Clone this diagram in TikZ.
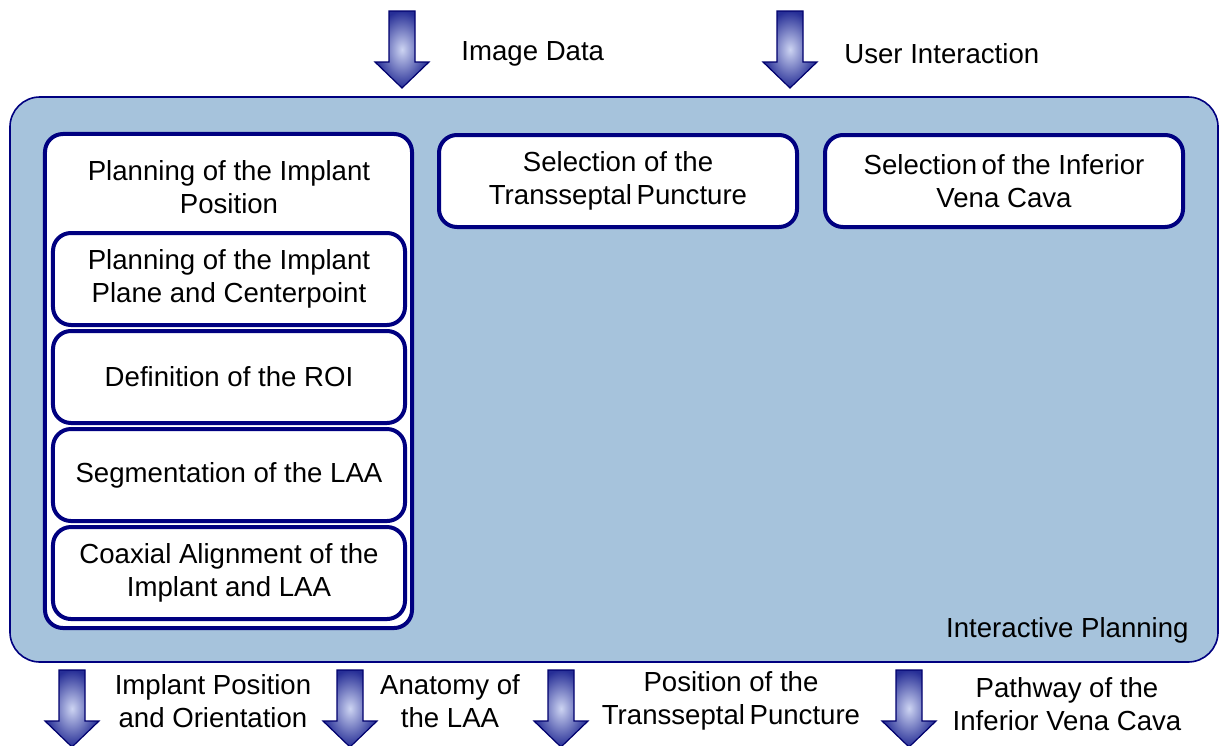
\documentclass[tikz,border=0pt]{standalone}
\usepackage{fontspec}
\setmainfont{Liberation Sans}
\usetikzlibrary{positioning}
\definecolor{navyline}{RGB}{0,0,128}
\definecolor{planfill}{RGB}{166,195,220}
\definecolor{arrowdark}{RGB}{38,46,150}
\definecolor{arrowlight}{RGB}{205,212,242}
\tikzset{
      planbox/.style={
        rounded corners=15bp,
        draw=navyline,
        line width=0.8bp,
        fill=planfill,
        inner sep=0pt
      },
      stepbox/.style={
        rounded corners=9bp,
        draw=navyline,
        line width=2bp,
        fill=white,
        align=center,
        inner sep=0pt,
        minimum width=176bp,
        minimum height=46bp
      },
      textlabel/.style={
        align=center,
        inner sep=0pt
      },
      arrowbody/.style={
        draw=navyline!85!black,
        line width=0.6bp,
        inner color=arrowlight,
        outer color=arrowdark
      },
      flowarrow/.pic={
        \path[arrowbody] (-13,0) -- (13,0) -- (13,51) -- (27,51) -- (0,77) -- (-27,51) -- (-13,51) -- cycle;
      }
    }

\begin{document}
\begin{tikzpicture}[x=0.5bp,y=-0.5bp,font=\fontsize{13.8bp}{16.5bp}\selectfont]
    \useasboundingbox (0,0) rectangle (1219,745);
    % inputs
    \pic (imgarrow) at (402,11) {flowarrow};
    \pic (userarrow) at (790,11) {flowarrow};
    \node[textlabel, anchor=west] (imgdata) at (461,54) {Image Data};
    \node[textlabel, anchor=west] (userdata) at (844,54) {User Interaction};
    % planning frame
    \node[planbox, minimum width=604bp, minimum height=282.5bp] (plan) at (614,379.5) {};
    \node[textlabel, anchor=east] (planname) at (1189,630) {Interactive Planning};
    \node[stepbox, minimum width=183.5bp, minimum height=247bp] (implant) at (228.5,381) {};
    \node[textlabel] (implanttitle) at (229,187) {Planning of the Implant\\Position};
    \node[stepbox] (plane) at (229,279) {Planning of the Implant\\Plane and Centerpoint};
    \node[stepbox, below=1bp of plane] (roi) {Definition of the ROI};
    \node[stepbox, below=1bp of roi] (seg) {Segmentation of the LAA};
    \node[stepbox, below=1bp of seg] (align) {Coaxial Alignment of the\\Implant and LAA};
    \node[stepbox, minimum width=179bp] (puncture) at (618,181) {Selection of the\\Transseptal\,Puncture};
    \node[stepbox, minimum width=179bp] (cava) at (1004,181) {Selection\,of the Inferior\\Vena Cava};
    % outputs
    \pic (outarrow1) at (72,670) {flowarrow};
    \pic (outarrow2) at (350,670) {flowarrow};
    \pic (outarrow3) at (561,670) {flowarrow};
    \pic (outarrow4) at (909,670) {flowarrow};
    \node[textlabel] (outpos) at (213,701) {Implant Position\\and Orientation};
    \node[textlabel] (outlaa) at (450,701) {Anatomy of\\the LAA};
    \node[textlabel] (outpunct) at (731,701) {Position of the\\Transseptal\,Puncture};
    \node[textlabel] (outcava) at (1067,704) {Pathway of the\\Inferior Vena Cava};
\end{tikzpicture}
\end{document}
